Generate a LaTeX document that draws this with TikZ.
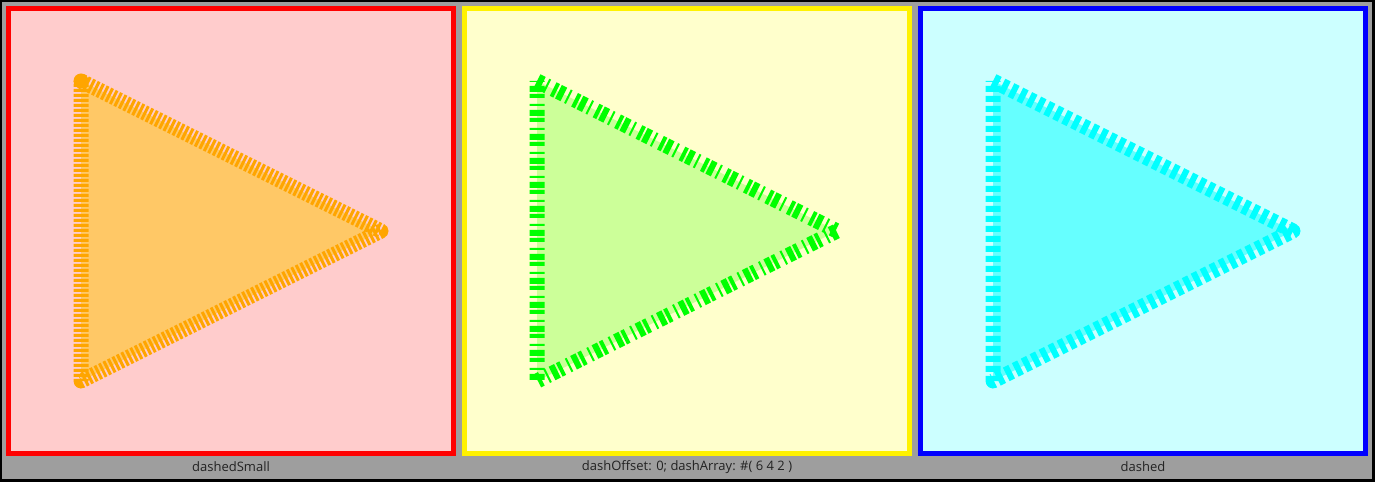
\documentclass[tikz,border=0pt]{standalone}
\usepackage{fontspec}
\setmainfont{Open Sans}
\definecolor{bggray}{RGB}{158,158,158}
\definecolor{pink1}{RGB}{255,204,204}
\definecolor{yel1}{RGB}{255,255,204}
\definecolor{cyan1}{RGB}{204,255,255}
\definecolor{orangeS}{RGB}{255,165,0}
\definecolor{orangeF}{RGB}{255,200,102}
\definecolor{greenS}{RGB}{0,255,0}
\definecolor{greenF}{RGB}{204,255,153}
\definecolor{cyanS}{RGB}{0,255,255}
\definecolor{cyanF}{RGB}{102,255,255}
\definecolor{labelc}{RGB}{34,34,34}
\tikzset{
  panelbox/.style={line width=5bp},
  tri/.style={line width=15bp},
  plabel/.style={text=labelc, font=\fontsize{13bp}{15bp}\selectfont, inner sep=0pt}
}
\begin{document}
\begin{tikzpicture}[x=1bp,y=-1bp]
\useasboundingbox (0,0) rectangle (1375,482);
\fill[black] (0,0) rectangle (1375,482);
\fill[bggray] (2,2) rectangle (1372,479);
% panels
\draw[panelbox, draw=red, fill=pink1] (8.5,8.5) rectangle (453.5,453.5);
\draw[panelbox, draw=yellow, fill=yel1] (464.5,8.5) rectangle (909.5,453.5);
\draw[panelbox, draw=blue, fill=cyan1] (920.5,8.5) rectangle (1365.5,453.5);
% triangles
\draw[tri, draw=orangeS, fill=orangeF, line join=round, dash pattern=on 3bp off 2bp]
  (81,81) -- (381,231) -- (81,381) -- cycle;
\fill[orangeS] (81,81) circle (7.5bp);
\draw[tri, draw=greenS, fill=greenF, line join=miter, dash pattern=on 6bp off 4bp on 2bp off 6bp on 4bp off 2bp]
  (537,81) -- (837,231) -- (537,381) -- cycle;
\draw[tri, draw=cyanS, fill=cyanF, line join=round, dash pattern=on 6bp off 4bp]
  (993,81) -- (1293,231) -- (993,381) -- cycle;
% labels
\node[plabel] (l1) at (231,467) {dashedSmall};
\node[plabel] (l2) at (687,467) {dashOffset: 0; dashArray: \#( 6 4 2 )};
\node[plabel] (l3) at (1143,467) {dashed};
\end{tikzpicture}
\end{document}
